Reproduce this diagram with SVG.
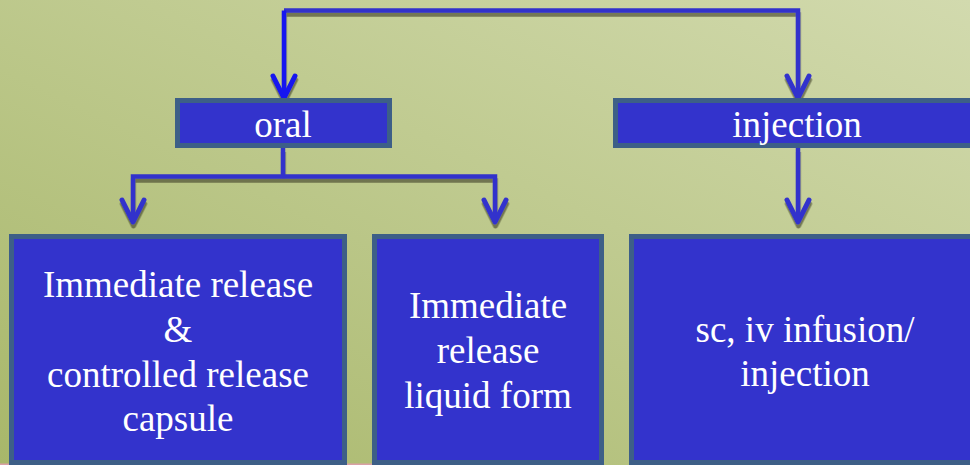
<svg xmlns="http://www.w3.org/2000/svg" width="970" height="465" viewBox="0 0 970 465">
  <defs>
    <linearGradient id="bg" x1="0" y1="1" x2="1" y2="0">
      <stop offset="0" stop-color="#a8b76a"/>
      <stop offset="1" stop-color="#d2daae"/>
    </linearGradient>
    <filter id="shadow" x="-10%" y="-10%" width="120%" height="130%">
      <feDropShadow dx="0.5" dy="4" stdDeviation="0.7" flood-color="#3c3c28" flood-opacity="0.6"/>
    </filter>
    <!-- open chevron arrowhead, tip at the path end -->
    <marker id="chev" markerUnits="userSpaceOnUse" orient="auto-start-reverse" overflow="visible" markerWidth="30" markerHeight="30" refX="0" refY="0">
      <path d="M-22,-11 L0,0 L-22,11" fill="none" stroke="#3333cc" stroke-width="5" stroke-linecap="round" stroke-linejoin="round"/>
    </marker>
    <marker id="chevBright" markerUnits="userSpaceOnUse" orient="auto-start-reverse" overflow="visible" markerWidth="30" markerHeight="30" refX="0" refY="0">
      <path d="M-22,-11 L0,0 L-22,11" fill="none" stroke="#1414f0" stroke-width="5" stroke-linecap="round" stroke-linejoin="round"/>
    </marker>
  </defs>
  <style>
    .box { fill: #3333cc; stroke: #3d5f87; stroke-width: 5; }
    .lbl { font-size: 37px; fill: #ffffff; text-anchor: middle; }
    .wire { fill: none; stroke: #3333cc; stroke-width: 4.5; stroke-linejoin: miter; }
  </style>

  <rect x="0" y="0" width="970" height="465" fill="url(#bg)"/>
  <rect x="0" y="463.5" width="542" height="1.5" fill="#d9a0a6"/>

  <g id="connectors" filter="url(#shadow)">
    <path class="wire" d="M284,10.5 H798 V98" marker-end="url(#chev)"/>
    <path class="wire" d="M284,10.5 V98" style="stroke:#1414f0" marker-end="url(#chevBright)"/>
    <path class="wire" d="M283,148 V176.5"/>
    <path class="wire" d="M133,222 V176.5 H495 V222" marker-start="url(#chev)" marker-end="url(#chev)"/>
    <path class="wire" d="M798,148 V222" marker-end="url(#chev)"/>
  </g>

  <g font-family="'Liberation Serif', 'Times New Roman', 'DejaVu Serif', serif">
    <g id="oral">
      <rect class="box" x="177.5" y="100.5" width="212" height="45"/>
      <text class="lbl" x="283" y="137">oral</text>
    </g>

    <g id="injection">
      <rect class="box" x="615.5" y="100.5" width="360" height="45"/>
      <text class="lbl" x="797" y="137">injection</text>
    </g>

    <g id="capsule">
      <rect class="box" x="11.5" y="236.5" width="333" height="226"/>
      <text class="lbl" x="178" y="297">Immediate release</text>
      <text class="lbl" x="178" y="342">&amp;</text>
      <text class="lbl" x="178" y="386.5">controlled release</text>
      <text class="lbl" x="178" y="431">capsule</text>
    </g>

    <g id="liquid">
      <rect class="box" x="374.5" y="236.5" width="227" height="226"/>
      <text class="lbl" x="488" y="318">Immediate</text>
      <text class="lbl" x="488" y="363">release</text>
      <text class="lbl" x="488" y="408">liquid form</text>
    </g>

    <g id="parenteral">
      <rect class="box" x="631.5" y="236.5" width="345" height="226"/>
      <text class="lbl" x="805" y="342">sc, iv infusion/</text>
      <text class="lbl" x="805" y="386">injection</text>
    </g>
  </g>
</svg>
